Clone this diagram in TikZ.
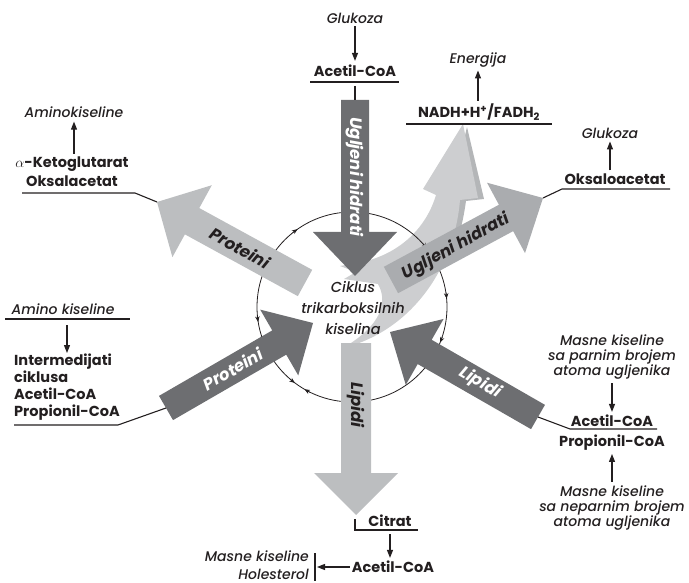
\documentclass[tikz,border=0pt]{standalone}
\usepackage{fontspec}
\setmainfont{Poppins}[ItalicFont={Poppins Medium Italic}, BoldFont={Poppins Bold}, BoldItalicFont={Poppins Bold Italic}]
\usetikzlibrary{calc,arrows.meta}
\definecolor{dgray}{HTML}{6D6E71}
\definecolor{mgray}{HTML}{AAACAF}
\definecolor{lgray}{HTML}{BCBEC0}
\definecolor{sgray}{HTML}{CDCED0}
\definecolor{sshadow}{HTML}{B4B6B8}
\definecolor{ink}{HTML}{231F20}
\newcommand\bigarrow[6]{%
  \coordinate (ba-h) at ($(#2)!#5!(#1)$);
  \fill[#6] ($(#1)!#3!90:(#2)$) -- ($(ba-h)!#3!90:(#2)$) -- ($(ba-h)!#4!90:(#2)$) -- (#2)
    -- ($(ba-h)!#4!-90:(#2)$) -- ($(ba-h)!#3!-90:(#2)$) -- ($(#1)!#3!-90:(#2)$) -- cycle;
}
\newcommand\cmark[2]{%
  \draw[circmark] ($(cc)+({95*cos(#1)-(#2)*6*sin(#1)},{-95*sin(#1)-(#2)*6*cos(#1)})$) -- ($(cc)+({95*cos(#1)},{-95*sin(#1)})$);
}
\tikzset{
  btx/.style={font=\bfseries\fontsize{14.5}{17}\selectfont, inner sep=1pt, text=ink},
  itx/.style={font=\itshape\fontsize{14}{15}\selectfont, inner sep=1pt, text=ink},
  arrtx/.style={font=\bfseries\itshape\fontsize{16.5}{18}\selectfont, inner sep=0pt},
  conn/.style={-{Triangle[length=8pt,width=6pt]}, line width=1.1pt, draw=ink},
  ln/.style={line width=1.1pt, draw=ink},
  circmark/.style={-{Stealth[length=5.5pt,width=4.5pt]}, line width=0.7pt, draw=ink},
  circ/.style={line width=0.8pt, draw=ink}
}
\begin{document}
\begin{tikzpicture}[x=1pt,y=-1pt]
\useasboundingbox (0,0) rectangle (689,583);
% arrow coordinates
\coordinate (a1t) at (355,100); \coordinate (a1p) at (355,276);
\coordinate (a2t) at (391,280); \coordinate (a2p) at (543,198);
\coordinate (a3t) at (305,283); \coordinate (a3p) at (157,202);
\coordinate (a4t) at (166,408); \coordinate (a4p) at (313,323);
\coordinate (a5t) at (538,417); \coordinate (a5p) at (390,332);
\coordinate (a6t) at (356,343); \coordinate (a6p) at (356,515);
% swoosh (energy) with a light shadow on its right side
\fill[sshadow] (467,127) -- (484,199) -- (466,201) .. controls (462,230) and (455,250) .. (448,262) -- (430,250) -- (450,200) -- cycle;
\fill[sgray] (343,348) .. controls (408,332) and (454,272) .. (460,200)
  -- (478,198) -- (463,124) -- (423,189) -- (436,195)
  .. controls (425,232) and (395,255) .. (362,262)
  -- (340,266) -- (356,272) -- (344,279) -- (378,284)
  .. controls (388,302) and (382,325) .. (343,348) -- cycle;
% cycle circle with direction marks
\coordinate (cc) at (352,307);
\draw[circ] (cc) circle[radius=95];
\cmark{125}{1}
\cmark{38}{1}
\cmark{5}{1}
\cmark{-22}{1}
\cmark{-120}{1}
\cmark{-127}{-1}
\cmark{-163}{1}
\cmark{-171}{-1}
% big arrows
\bigarrow{a6t}{a6p}{15pt}{42pt}{42pt}{lgray}
\bigarrow{a3t}{a3p}{15pt}{41pt}{40pt}{lgray}
\bigarrow{a2t}{a2p}{15pt}{40pt}{42pt}{mgray}
\bigarrow{a1t}{a1p}{14pt}{42pt}{44pt}{dgray}
\bigarrow{a4t}{a4p}{14pt}{38pt}{39pt}{dgray}
\bigarrow{a5t}{a5p}{14pt}{38pt}{40pt}{dgray}
% arrow texts
\node[arrtx, text=white, rotate=-90] (t1) at (355,177) {Ugljeni hidrati};
\node[arrtx, text=ink, rotate=29] (t2) at (456,247) {Ugljeni hidrati};
\node[arrtx, text=ink, rotate=-29] (t3) at (240,248) {Proteini};
\node[arrtx, text=white, rotate=30] (t4) at (233,369) {Proteini};
\node[arrtx, text=white, rotate=-30] (t5) at (480,383) {Lipidi};
\node[arrtx, text=ink, rotate=-90] (t6) at (356,405) {Lipidi};
% centre text
\node[itx, align=center, font=\itshape\fontsize{14.5}{21}\selectfont] (ctr) at (353,308) {Ciklus\\trikarboksilnih\\kiselina};
% top
\node[itx] (glu1) at (355,18) {Glukoza};
\node[btx] (ac1) at (355,71) {Acetil-CoA};
\draw[conn, shorten <=2pt, shorten >=3pt] (glu1.south) -- (ac1.north);
\coordinate (u1a) at (310,82); \coordinate (u1b) at (399,82); \coordinate (u1m) at (355,86);
\draw[ln] (u1a) -- (u1b);
\draw[ln] (u1m) -- (a1t);
% energy
\node[itx] (en) at (478,60) {Energija};
\node[btx] (nadh) at (479,112) {NADH+H\textsuperscript{+}/FADH\textsubscript{2}};
\draw[conn, shorten <=2pt, shorten >=2pt] (nadh.north -| en) -- (en.south);
\coordinate (u2a) at (406,124); \coordinate (u2b) at (552,124);
\draw[ln] (u2a) -- (u2b);
% right top
\node[itx] (glu2) at (610,133) {Glukoza};
\node[btx] (oksa) at (615,179) {Oksaloacetat};
\draw[conn, shorten <=2pt, shorten >=2pt] (oksa.north -| glu2) -- (glu2.south);
\coordinate (u3a) at (562,189); \coordinate (u3b) at (670,189);
\draw[ln] (u3b) -- (u3a) -- (a2p);
% left top
\node[itx] (amk) at (74,112) {Aminokiseline};
\node[btx, align=center, font=\bfseries\fontsize{14.5}{19}\selectfont] (keto) at (72,172) {$\alpha$-Ketoglutarat\\Oksalacetat};
\draw[conn, shorten <=2pt, shorten >=3pt] (keto.north -| amk) -- (amk.south);
\coordinate (u4a) at (22,193); \coordinate (u4b) at (135,193);
\draw[ln] (u4a) -- (u4b) -- (a3p);
% left
\node[itx] (amk2) at (63,309) {Amino kiseline};
\coordinate (u5a) at (5,319); \coordinate (u5b) at (130,319); \coordinate (u5m) at (67,325);
\draw[ln] (u5a) -- (u5b);
\node[btx, align=left, anchor=north west] (interm) at (13,353) {Intermedijati\\ciklusa\\Acetil-CoA\\Propionil-CoA};
\draw[conn] (u5m) -- (u5m |- interm.north);
\coordinate (u6a) at (14,425); \coordinate (u6b) at (118,425);
\draw[ln] (u6a) -- (u6b) -- (a4t);
% right
\node[itx, align=center] (mk1) at (612,357) {Masne kiseline\\sa parnim brojem\\atoma ugljenika};
\node[btx] (ac3) at (612,421) {Acetil-CoA};
\node[btx] (prop) at (612,443) {Propionil-CoA};
\node[itx, align=center] (mk2) at (612,508) {Masne kiseline\\sa neparnim brojem\\atoma ugljenika};
\draw[conn, shorten <=3pt, shorten >=2pt] (mk1.south) -- (ac3.north);
\draw[conn, shorten <=3pt, shorten >=2pt] (mk2.north) -- (prop.south);
\coordinate (u7a) at (570,429); \coordinate (u7b) at (657,429);
\draw[ln] (a5t) -- (u7a) -- (u7b);
% bottom
\node[btx] (cit) at (390,521) {Citrat};
\coordinate (u8a) at (355,519); \coordinate (u8b) at (355,530); \coordinate (u8c) at (418,530);
\draw[ln] (u8a) -- (u8b) -- (u8c);
\node[btx] (ac4) at (393,567) {Acetil-CoA};
\coordinate (u8m) at (390,534);
\draw[conn, shorten >=2pt] (u8m) -- (u8m |- ac4.north);
\coordinate (bar1) at (315,553); \coordinate (bar2) at (315,581); \coordinate (barm) at (317,567);
\draw[ln] (bar1) -- (bar2);
\draw[conn, shorten <=1pt] (ac4.west) -- (barm);
\node[itx, align=right, anchor=east, font=\itshape\fontsize{14}{18}\selectfont] (mkh) at (310,565) {Masne kiseline\\Holesterol};
\end{tikzpicture}
\end{document}
